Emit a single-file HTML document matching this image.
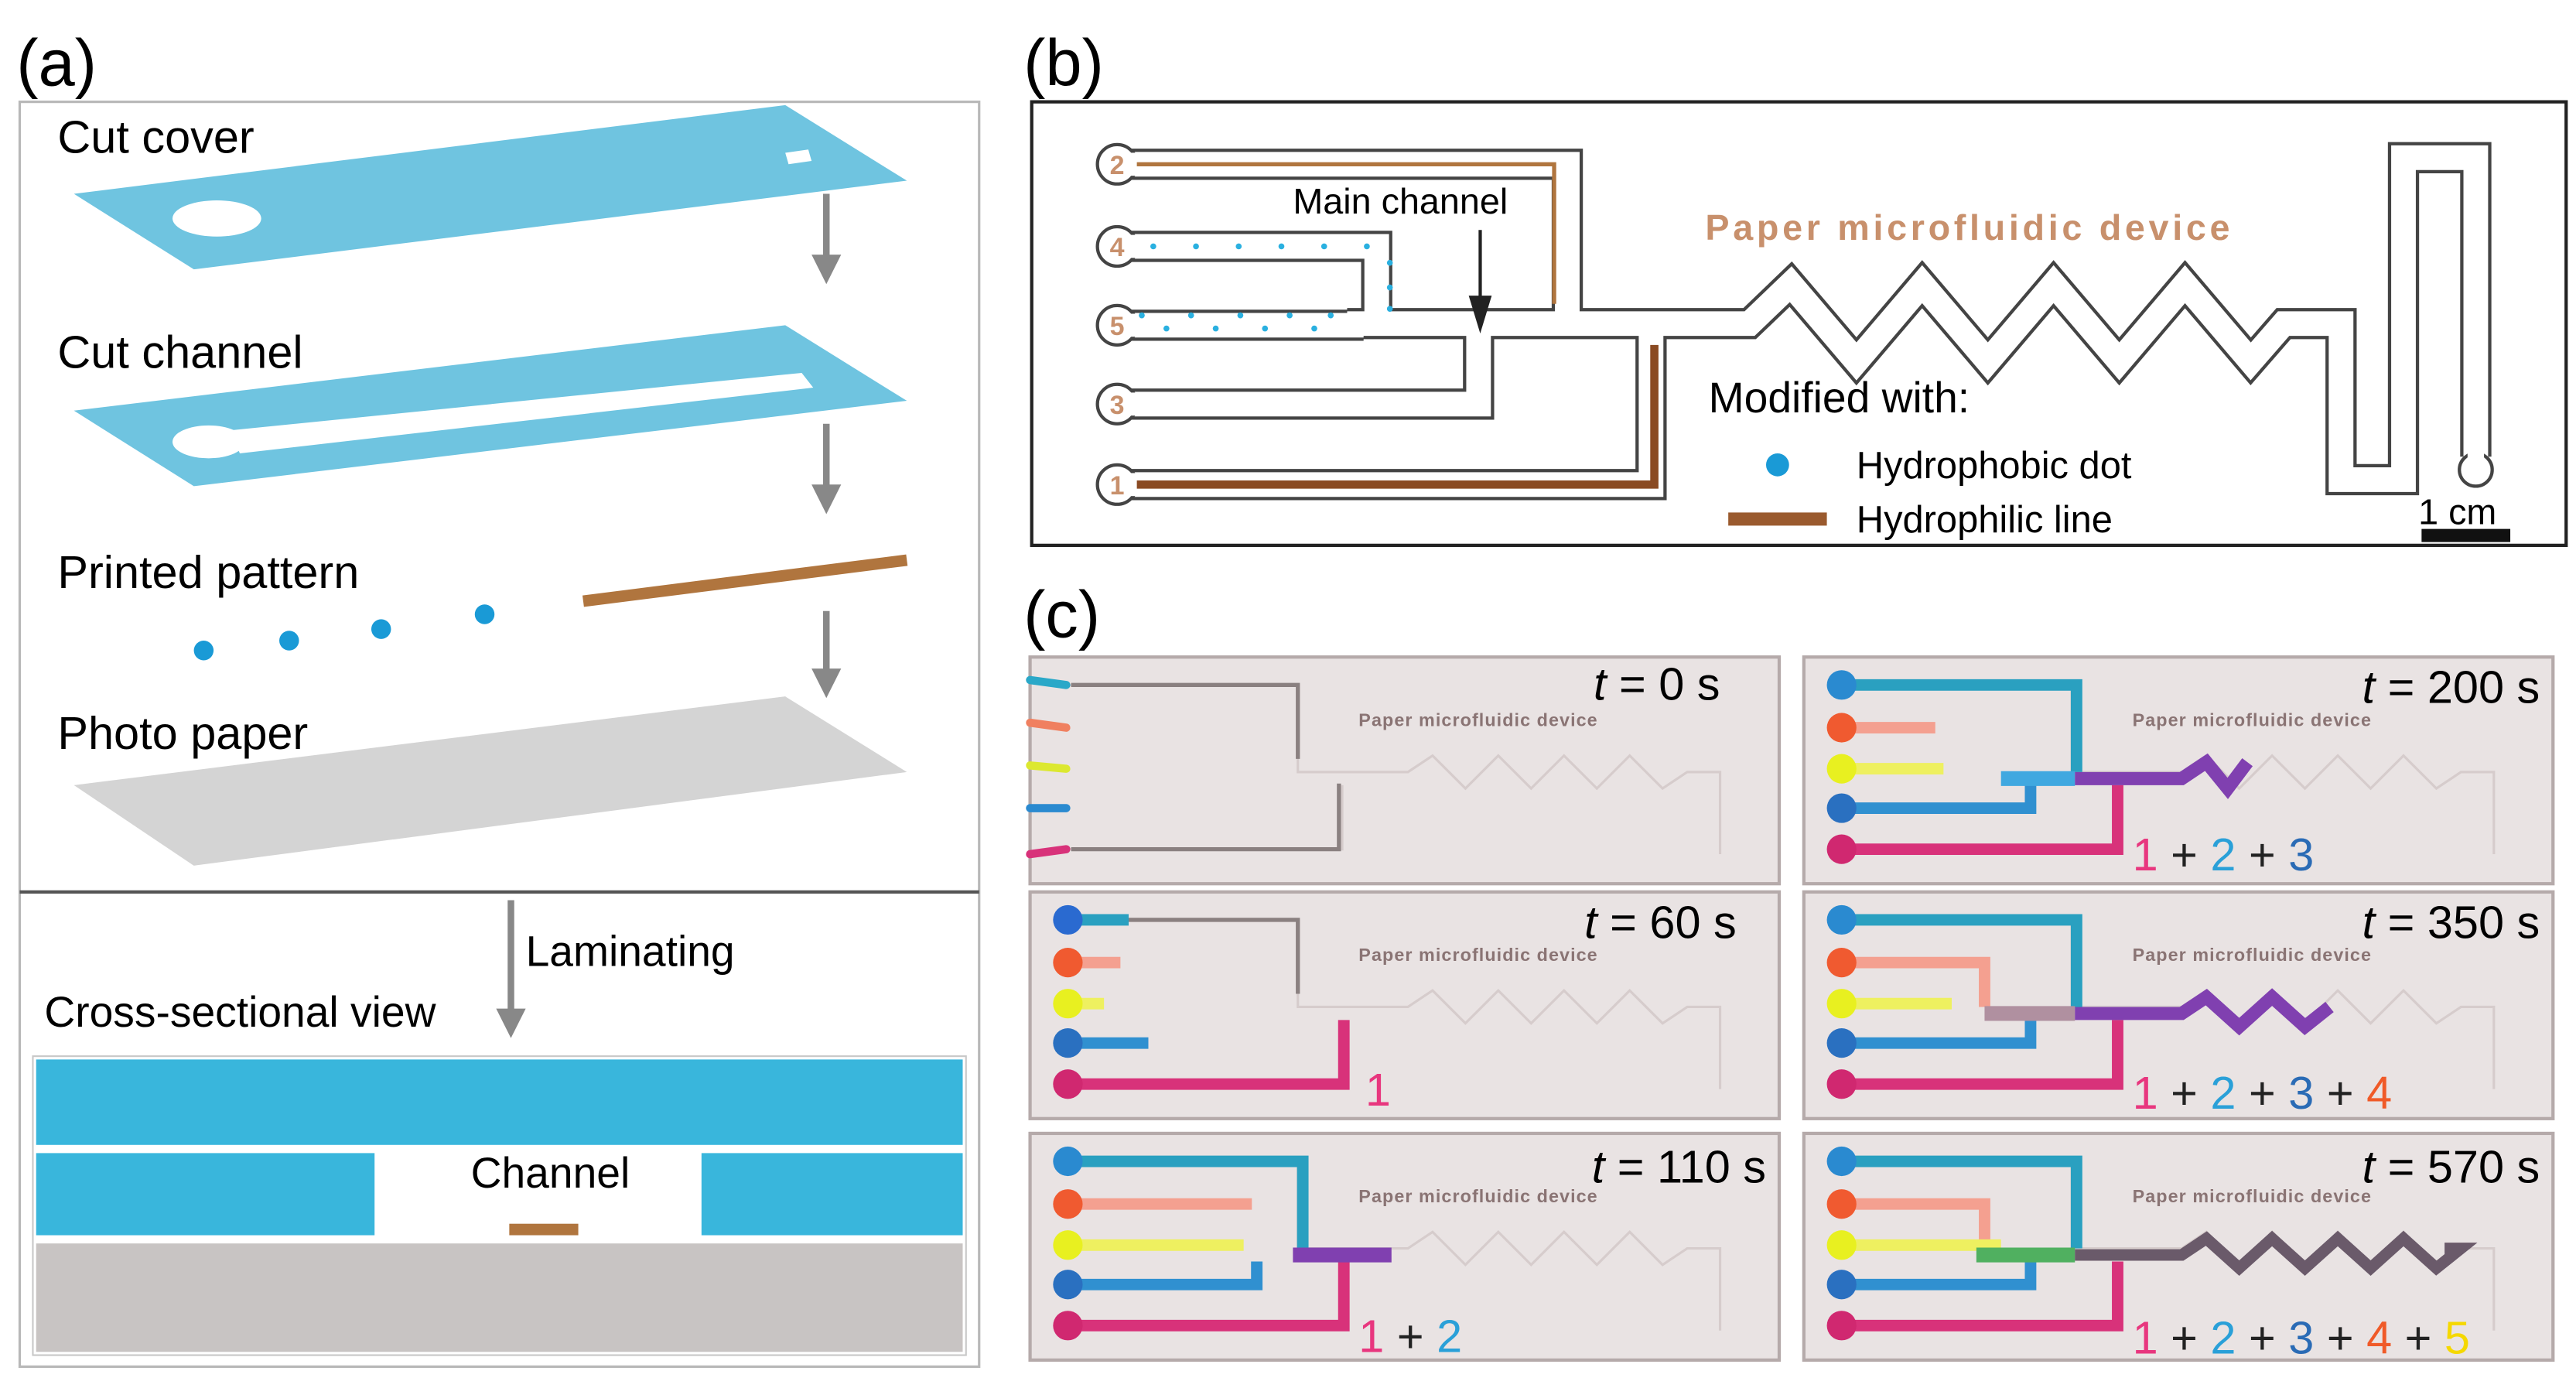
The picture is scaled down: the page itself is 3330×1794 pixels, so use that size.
<!DOCTYPE html>
<html><head><meta charset="utf-8"><style>
html,body{margin:0;padding:0;background:#fff;}
svg{display:block;font-family:"Liberation Sans",sans-serif;}
</style></head><body>
<svg width="3330" height="1794" viewBox="0 0 1568 845" preserveAspectRatio="none" xmlns="http://www.w3.org/2000/svg">
<rect width="1568" height="845" fill="#fff"/>
<!-- ===== Panel (a) ===== -->
<text x="10" y="52" font-size="40">(a)</text>
<rect x="12" y="62" width="584" height="770" fill="none" stroke="#b8b8b8" stroke-width="1.5"/>
<line x1="12" y1="543" x2="596" y2="543" stroke="#555" stroke-width="2"/>
<text x="35" y="93" font-size="28">Cut cover</text>
<polygon points="45,118 478,64 552,110 118,164" fill="#6fc4e0"/>
<ellipse cx="132" cy="133" rx="27" ry="11" fill="#fff"/>
<polygon points="478,93 492,91 494,98 480,100" fill="#fff"/>
<text x="35" y="224" font-size="28">Cut channel</text>
<polygon points="45,250 478,198 552,244 118,296" fill="#6fc4e0"/>
<ellipse cx="127" cy="269" rx="22" ry="10" fill="#fff"/>
<polygon points="140,262 488,227 495,236 146,276" fill="#fff"/>
<text x="35" y="358" font-size="28">Printed pattern</text>
<circle cx="124" cy="396" r="6" fill="#1a9ad6"/>
<circle cx="176" cy="390" r="6" fill="#1a9ad6"/>
<circle cx="232" cy="383" r="6" fill="#1a9ad6"/>
<circle cx="295" cy="374" r="6" fill="#1a9ad6"/>
<line x1="355" y1="366" x2="552" y2="341" stroke="#b0753e" stroke-width="7"/>
<text x="35" y="456" font-size="28">Photo paper</text>
<polygon points="45,478 478,424 552,470 118,527" fill="#d4d4d4"/>
<g stroke="#888" stroke-width="4" fill="#888">
<line x1="503" y1="118" x2="503" y2="158"/><polygon points="494,155 512,155 503,173" stroke="none"/>
<line x1="503" y1="258" x2="503" y2="298"/><polygon points="494,295 512,295 503,313" stroke="none"/>
<line x1="503" y1="372" x2="503" y2="410"/><polygon points="494,407 512,407 503,425" stroke="none"/>
<line x1="311" y1="548" x2="311" y2="617"/><polygon points="302,614 320,614 311,632" stroke="none"/>
</g>
<text x="320" y="588" font-size="26">Laminating</text>
<text x="27" y="625" font-size="26">Cross-sectional view</text>
<rect x="20" y="643" width="568" height="182" fill="#fff" stroke="#c8c8c8"/>
<rect x="22" y="645" width="564" height="52" fill="#39b6dc"/>
<rect x="22" y="702" width="206" height="50" fill="#39b6dc"/>
<rect x="427" y="702" width="159" height="50" fill="#39b6dc"/>
<rect x="22" y="757" width="564" height="66" fill="#c8c4c3"/>
<text x="335" y="723" font-size="26" text-anchor="middle">Channel</text>
<rect x="310" y="745" width="42" height="7" fill="#b0753e"/>

<!-- ===== Panel (b) ===== -->
<text x="623" y="52" font-size="40">(b)</text>
<rect x="628" y="62" width="934" height="270" fill="#fff" stroke="#222" stroke-width="2"/>
<g fill="none" stroke-linejoin="miter">
<g stroke="#444" stroke-width="19">
<path d="M680,100 H954 V197"/>
<path d="M680,150 H838 V197"/>
<path d="M680,198 H830"/>
<path d="M680,246 H900 V197"/>
<path d="M680,295 H1005 V197"/>
<path d="M820,197 H1065 L1090,173 L1130,220 L1170,173 L1210,220 L1250,173 L1290,220 L1330,173 L1370,220 L1390,197 H1425 V292 H1463 V96 H1507 V278"/>
</g>
<g stroke="#fff" stroke-width="15">
<path d="M680,100 H954 V197"/>
<path d="M680,150 H838 V197"/>
<path d="M680,198 H830"/>
<path d="M680,246 H900 V197"/>
<path d="M680,295 H1005 V197"/>
<path d="M820,197 H1065 L1090,173 L1130,220 L1170,173 L1210,220 L1250,173 L1290,220 L1330,173 L1370,220 L1390,197 H1425 V292 H1463 V96 H1507 V278"/>
</g>
</g>
<g fill="#fff" stroke="#444" stroke-width="2">
<circle cx="680" cy="100" r="12"/><circle cx="680" cy="150" r="12"/><circle cx="680" cy="198" r="12"/><circle cx="680" cy="246" r="12"/><circle cx="680" cy="295" r="12"/>
<circle cx="1507" cy="286" r="10"/>
</g>
<g fill="#fff"><rect x="688" y="93" width="8" height="14"/><rect x="688" y="143" width="8" height="14"/><rect x="688" y="191" width="8" height="14"/><rect x="688" y="239" width="8" height="14"/><rect x="688" y="288" width="8" height="14"/><rect x="1502" y="268" width="10" height="14"/></g>
<g font-size="16" fill="#c8906c" text-anchor="middle" font-weight="bold">
<text x="680" y="106">2</text><text x="680" y="156">4</text><text x="680" y="204">5</text><text x="680" y="252">3</text><text x="680" y="301">1</text>
</g>
<path d="M692,100 H946 V185" fill="none" stroke="#b0753e" stroke-width="2.5"/>
<path d="M692,295 H1007 V210" fill="none" stroke="#8a4a22" stroke-width="5"/>
<g fill="#2ab0e0">
<circle cx="702" cy="150" r="1.8"/><circle cx="728" cy="150" r="1.8"/><circle cx="754" cy="150" r="1.8"/><circle cx="780" cy="150" r="1.8"/><circle cx="806" cy="150" r="1.8"/><circle cx="832" cy="150" r="1.8"/><circle cx="846" cy="160" r="1.8"/><circle cx="846" cy="175" r="1.8"/><circle cx="846" cy="188" r="1.8"/>
<circle cx="695" cy="192" r="1.8"/><circle cx="710" cy="200" r="1.8"/><circle cx="725" cy="192" r="1.8"/><circle cx="740" cy="200" r="1.8"/><circle cx="755" cy="192" r="1.8"/><circle cx="770" cy="200" r="1.8"/><circle cx="785" cy="192" r="1.8"/><circle cx="800" cy="200" r="1.8"/><circle cx="810" cy="192" r="1.8"/>
</g>
<text x="787" y="130" font-size="22">Main channel</text>
<line x1="901" y1="140" x2="901" y2="185" stroke="#222" stroke-width="2"/>
<polygon points="894,180 908,180 901,203" fill="#222"/>
<text x="1038" y="146" font-size="22" font-weight="bold" fill="#c8906c" letter-spacing="2.2">Paper microfluidic device</text>
<text x="1040" y="251" font-size="26">Modified with:</text>
<circle cx="1082" cy="283" r="7" fill="#1a9ad6"/>
<text x="1130" y="291" font-size="23">Hydrophobic dot</text>
<rect x="1052" y="312" width="60" height="8" fill="#9a5a2e"/>
<text x="1130" y="324" font-size="23">Hydrophilic line</text>
<text x="1472" y="319" font-size="22">1 cm</text>
<rect x="1474" y="322" width="54" height="8" fill="#111"/>

<!-- ===== Panel (c) ===== -->
<text x="623" y="388" font-size="40">(c)</text>
<defs>
<g id="base">
<rect x="0" y="0" width="456" height="138" fill="#e9e3e3" stroke="#b5aaaa" stroke-width="2"/>
<g fill="none" stroke="#d6cccc" stroke-width="1.5">
<path d="M23,17 H163 V70 H230 L245,60 L265,80 L285,60 L305,80 L325,60 L345,80 L365,60 L385,80 L400,70 H420 V120"/>
<path d="M23,117 H190 V78"/>
</g>
<text x="200" y="42" font-size="11" font-weight="bold" fill="#8a7474" letter-spacing="0.5">Paper microfluidic device</text>
</g>
</defs>
<g font-size="28">
<!-- t=0 -->
<g transform="translate(627,400)">
<use href="#base"/>
<path d="M25,17 H163 V62" fill="none" stroke="#8a8080" stroke-width="2.5"/>
<path d="M25,117 H188 V77" fill="none" stroke="#8a8080" stroke-width="2.5"/>
<g stroke-width="5" stroke-linecap="round">
<line x1="0" y1="14" x2="22" y2="17" stroke="#2aa8c8"/><line x1="0" y1="40" x2="22" y2="43" stroke="#f08060"/>
<line x1="0" y1="66" x2="22" y2="68" stroke="#dce830"/><line x1="0" y1="92" x2="22" y2="92" stroke="#2a8ad0"/>
<line x1="0" y1="120" x2="22" y2="117" stroke="#d8327a"/>
</g>
<text x="420" y="26" text-anchor="end"><tspan font-style="italic">t</tspan> = 0 s</text>
</g>
<!-- t=60 -->
<g transform="translate(627,543)">
<use href="#base"/>
<path d="M25,17 H163 V62" fill="none" stroke="#8a8080" stroke-width="2.5"/>
<g stroke-width="7" fill="none">
<path d="M25,17 H60" stroke="#2aa0c0"/><path d="M25,43 H55" stroke="#f4a090"/><path d="M25,68 H45" stroke="#eef060"/>
<path d="M25,92 H72" stroke="#3090d0"/><path d="M25,117 H191 V78" stroke="#d8327a"/>
</g>
<g><circle cx="23" cy="17" r="9" fill="#2a6ad0"/><circle cx="23" cy="43" r="9" fill="#f05a30"/><circle cx="23" cy="68" r="9" fill="#e8f020"/><circle cx="23" cy="92" r="9" fill="#2a70c0"/><circle cx="23" cy="117" r="9" fill="#d02870"/></g>
<text x="430" y="28" text-anchor="end"><tspan font-style="italic">t</tspan> = 60 s</text>
<text x="204" y="130" fill="#e8367e">1</text>
</g>
<!-- t=110 -->
<g transform="translate(627,690)">
<use href="#base"/>
<g stroke-width="7" fill="none">
<path d="M25,17 H166 V70" stroke="#2aa0c0"/><path d="M25,43 H135" stroke="#f4a090"/><path d="M25,68 H130" stroke="#eef060"/>
<path d="M25,92 H138 V78" stroke="#3090d0"/><path d="M25,117 H191 V78" stroke="#d8327a"/>
<path d="M160,74 H220" stroke="#8040b0" stroke-width="9"/>
</g>
<g><circle cx="23" cy="17" r="9" fill="#2a8ad0"/><circle cx="23" cy="43" r="9" fill="#f05a30"/><circle cx="23" cy="68" r="9" fill="#e8f020"/><circle cx="23" cy="92" r="9" fill="#2a70c0"/><circle cx="23" cy="117" r="9" fill="#d02870"/></g>
<text x="448" y="30" text-anchor="end"><tspan font-style="italic">t</tspan> = 110 s</text>
<text x="200" y="133" fill="#e8367e">1 <tspan fill="#222">+</tspan> <tspan fill="#2aa0d8">2</tspan></text>
</g>
<!-- t=200 -->
<g transform="translate(1098,400)">
<use href="#base"/>
<g stroke-width="7" fill="none">
<path d="M25,17 H166 V70" stroke="#2aa0c0"/><path d="M25,43 H80" stroke="#f4a090"/><path d="M25,68 H85" stroke="#eef060"/>
<path d="M25,92 H138 V78" stroke="#3090d0"/><path d="M25,117 H191 V78" stroke="#d8327a"/>
<path d="M120,74 H165" stroke="#40a8e0" stroke-width="9"/>
<path d="M165,74 H230 L245,64 L258,80 L270,64" stroke="#8040b0" stroke-width="8"/>
</g>
<g><circle cx="23" cy="17" r="9" fill="#2a8ad0"/><circle cx="23" cy="43" r="9" fill="#f05a30"/><circle cx="23" cy="68" r="9" fill="#e8f020"/><circle cx="23" cy="92" r="9" fill="#2a70c0"/><circle cx="23" cy="117" r="9" fill="#d02870"/></g>
<text x="448" y="28" text-anchor="end"><tspan font-style="italic">t</tspan> = 200 s</text>
<text x="200" y="130" fill="#e8367e">1 <tspan fill="#222">+</tspan> <tspan fill="#2aa0d8">2</tspan> <tspan fill="#222">+</tspan> <tspan fill="#2a6bb5">3</tspan></text>
</g>
<!-- t=350 -->
<g transform="translate(1098,543)">
<use href="#base"/>
<g stroke-width="7" fill="none">
<path d="M25,17 H166 V70" stroke="#2aa0c0"/><path d="M25,43 H110 V70" stroke="#f4a090"/><path d="M25,68 H90" stroke="#eef060"/>
<path d="M25,92 H138 V78" stroke="#3090d0"/><path d="M25,117 H191 V78" stroke="#d8327a"/>
<path d="M110,74 H165" stroke="#b090a0" stroke-width="9"/>
<path d="M165,74 H230 L245,64 L265,82 L285,64 L305,82 L320,70" stroke="#8040b0" stroke-width="8"/>
</g>
<g><circle cx="23" cy="17" r="9" fill="#2a8ad0"/><circle cx="23" cy="43" r="9" fill="#f05a30"/><circle cx="23" cy="68" r="9" fill="#e8f020"/><circle cx="23" cy="92" r="9" fill="#2a70c0"/><circle cx="23" cy="117" r="9" fill="#d02870"/></g>
<text x="448" y="28" text-anchor="end"><tspan font-style="italic">t</tspan> = 350 s</text>
<text x="200" y="132" fill="#e8367e">1 <tspan fill="#222">+</tspan> <tspan fill="#2aa0d8">2</tspan> <tspan fill="#222">+</tspan> <tspan fill="#2a6bb5">3</tspan> <tspan fill="#222">+</tspan> <tspan fill="#f05a28">4</tspan></text>
</g>
<!-- t=570 -->
<g transform="translate(1098,690)">
<use href="#base"/>
<g stroke-width="7" fill="none">
<path d="M25,17 H166 V70" stroke="#2aa0c0"/><path d="M25,43 H110 V70" stroke="#f4a090"/><path d="M25,68 H120" stroke="#eef060"/>
<path d="M25,92 H138 V78" stroke="#3090d0"/><path d="M25,117 H191 V78" stroke="#d8327a"/>
<path d="M105,74 H165" stroke="#50b060" stroke-width="9"/>
<path d="M165,74 H230 L245,64 L265,82 L285,64 L305,82 L325,64 L345,82 L365,64 L385,82 L400,70 H390" stroke="#6a5a6a" stroke-width="7"/>
</g>
<g><circle cx="23" cy="17" r="9" fill="#2a8ad0"/><circle cx="23" cy="43" r="9" fill="#f05a30"/><circle cx="23" cy="68" r="9" fill="#e8f020"/><circle cx="23" cy="92" r="9" fill="#2a70c0"/><circle cx="23" cy="117" r="9" fill="#d02870"/></g>
<text x="448" y="30" text-anchor="end"><tspan font-style="italic">t</tspan> = 570 s</text>
<text x="200" y="134" fill="#e8367e">1 <tspan fill="#222">+</tspan> <tspan fill="#2aa0d8">2</tspan> <tspan fill="#222">+</tspan> <tspan fill="#2a6bb5">3</tspan> <tspan fill="#222">+</tspan> <tspan fill="#f05a28">4</tspan> <tspan fill="#222">+</tspan> <tspan fill="#f5d800">5</tspan></text>
</g>
</g>
</svg>
</body></html>
